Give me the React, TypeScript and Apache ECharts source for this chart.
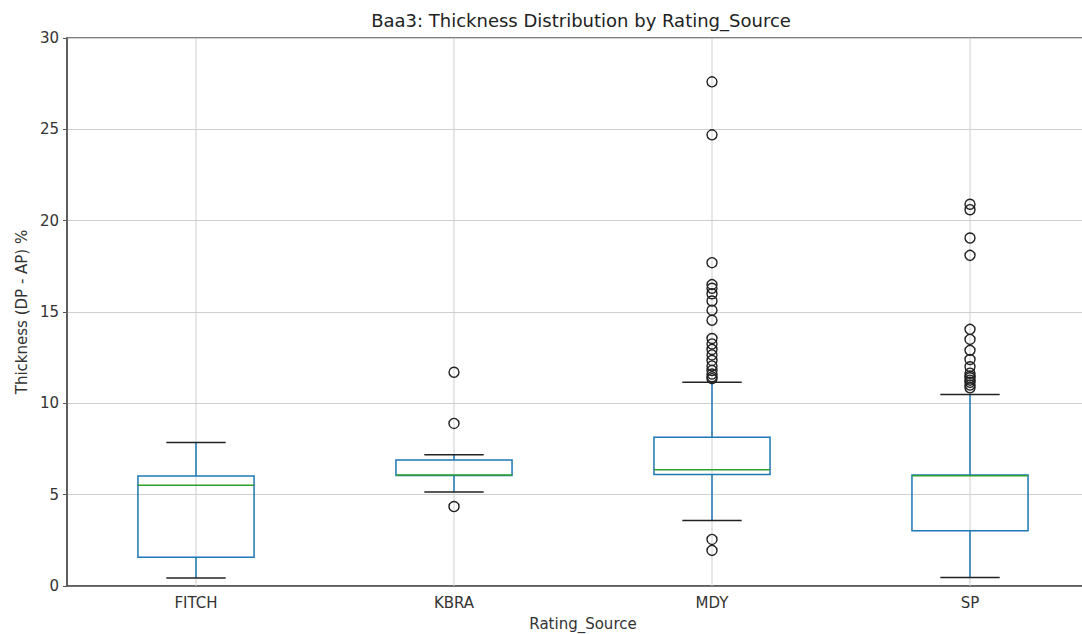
import React, { useEffect, useRef } from "react";
import * as echarts from "echarts";

const categories = ["FITCH", "KBRA", "MDY", "SP"];
const whiskerLow = [0.44, 5.14, 3.58, 0.46];
const q1 = [1.57, 6.05, 6.1, 3.02];
const medians = [5.52, 6.07, 6.36, 6.04];
const q3 = [6.02, 6.9, 8.14, 6.07];
const whiskerHigh = [7.86, 7.18, 11.16, 10.49];

const outliersFITCH: number[] = [];
const outliersKBRA = [11.7, 8.9, 4.35];
const outliersMDY = [
  27.6, 24.7, 17.7, 16.5, 16.3, 16.0, 15.6, 15.1, 14.55, 13.55, 13.25, 12.95, 12.65, 12.35,
  12.05, 11.8, 11.6, 11.45, 11.35, 2.55, 1.95,
];
const outliersSP = [
  20.9, 20.6, 19.05, 18.1, 14.05, 13.5, 12.9, 12.4, 12.0, 11.65, 11.5, 11.4, 11.27, 11.15,
  11.0, 10.85,
];
const outlierLists = [outliersFITCH, outliersKBRA, outliersMDY, outliersSP];

const yTicks = { min: 0, max: 30, interval: 5 };

const FONT = "DejaVu Sans";

export default function App() {
  const ref = useRef<HTMLDivElement>(null);
  useEffect(() => {
    if (!ref.current) return;
    const chart = echarts.init(ref.current, undefined, { renderer: "svg" });
    const boxData = categories.map((_, i) => [
      i,
      whiskerLow[i],
      q1[i],
      medians[i],
      q3[i],
      whiskerHigh[i],
    ]);
    const outlierData: number[][] = [];
    outlierLists.forEach((list, i) => list.forEach((v) => outlierData.push([i, v])));

    chart.setOption({
      animation: false,
      backgroundColor: "#ffffff",
      textStyle: { fontFamily: FONT },
      title: {
        text: "Baa3: Thickness Distribution by Rating_Source",
        left: 581,
        top: 11,
        padding: 0,
        textAlign: "center",
        textStyle: { fontFamily: FONT, fontSize: 18, fontWeight: "normal", color: "#222" },
      },
      grid: {
        left: 67,
        right: 1,
        top: 38,
        bottom: 48,
        outerBoundsMode: "none",
        containLabel: false,
        show: true,
        borderColor: "#555",
        borderWidth: 1.5,
        backgroundColor: "transparent",
      },
      xAxis: {
        type: "category",
        data: categories,
        boundaryGap: true,
        name: "Rating_Source",
        nameLocation: "middle",
        nameGap: 30,
        nameTextStyle: { fontFamily: FONT, fontSize: 15, color: "#333" },
        axisLine: { lineStyle: { color: "#555", width: 1.5 } },
        axisTick: { alignWithLabel: true, length: 4, lineStyle: { color: "#555" } },
        axisLabel: { fontFamily: FONT, fontSize: 15, color: "#333", margin: 9 },
        splitLine: { show: false },
      },
      yAxis: {
        type: "value",
        min: yTicks.min,
        max: yTicks.max,
        interval: yTicks.interval,
        name: "Thickness (DP - AP) %",
        nameLocation: "middle",
        nameGap: 38,
        nameTextStyle: { fontFamily: FONT, fontSize: 15, color: "#333" },
        axisLine: { show: true, lineStyle: { color: "#555", width: 1.5 } },
        axisTick: { show: true, length: 4, lineStyle: { color: "#555" } },
        axisLabel: { fontFamily: FONT, fontSize: 15, color: "#333", margin: 8 },
        splitLine: { show: true, lineStyle: { color: "#cfcfcf", width: 1 } },
      },
      series: [
        {
          type: "custom",
          z: 2,
          encode: { x: 0, y: [1, 2, 3, 4, 5] },
          data: boxData,
          renderItem: (params: any, api: any) => {
            const i = api.value(0);
            const lo = api.value(1);
            const a = api.value(2);
            const m = api.value(3);
            const b = api.value(4);
            const hi = api.value(5);
            const band = api.size([1, 0])[0];
            const bw = band * 0.45;
            const cw = band * 0.23;
            const pLo = api.coord([i, lo]);
            const pQ1 = api.coord([i, a]);
            const pM = api.coord([i, m]);
            const pQ3 = api.coord([i, b]);
            const pHi = api.coord([i, hi]);
            const gBottom = api.coord([i, yTicks.min]);
            const gTop = api.coord([i, yTicks.max]);
            const x = pLo[0];
            const blue = "#1f77b4";
            const green = "#2ca02c";
            const black = "#222";
            return {
              type: "group",
              children: [
                {
                  type: "line",
                  shape: { x1: x, y1: gBottom[1], x2: x, y2: gTop[1] },
                  style: { stroke: "#cfcfcf", lineWidth: 1 },
                },
                {
                  type: "line",
                  shape: { x1: x, y1: pLo[1], x2: x, y2: pQ1[1] },
                  style: { stroke: blue, lineWidth: 1.5 },
                },
                {
                  type: "line",
                  shape: { x1: x, y1: pQ3[1], x2: x, y2: pHi[1] },
                  style: { stroke: blue, lineWidth: 1.5 },
                },
                {
                  type: "rect",
                  shape: { x: x - bw / 2, y: pQ3[1], width: bw, height: pQ1[1] - pQ3[1] },
                  style: { fill: "none", stroke: blue, lineWidth: 1.5 },
                },
                {
                  type: "line",
                  shape: { x1: x - bw / 2, y1: pM[1], x2: x + bw / 2, y2: pM[1] },
                  style: { stroke: green, lineWidth: 1.5 },
                },
                {
                  type: "line",
                  shape: { x1: x - cw / 2, y1: pLo[1], x2: x + cw / 2, y2: pLo[1] },
                  style: { stroke: black, lineWidth: 1.5 },
                },
                {
                  type: "line",
                  shape: { x1: x - cw / 2, y1: pHi[1], x2: x + cw / 2, y2: pHi[1] },
                  style: { stroke: black, lineWidth: 1.5 },
                },
              ],
            };
          },
        },
        {
          type: "scatter",
          z: 3,
          data: outlierData,
          symbol: "circle",
          symbolSize: 10,
          itemStyle: { color: "rgba(255,255,255,0)", borderColor: "#222", borderWidth: 1.4, opacity: 1 },
        },
      ],
    });
    return () => chart.dispose();
  }, []);
  return (
    <div
      ref={ref}
      style={{ position: "fixed", left: 0, top: 0, width: 1100, height: 634 }}
    />
  );
}
